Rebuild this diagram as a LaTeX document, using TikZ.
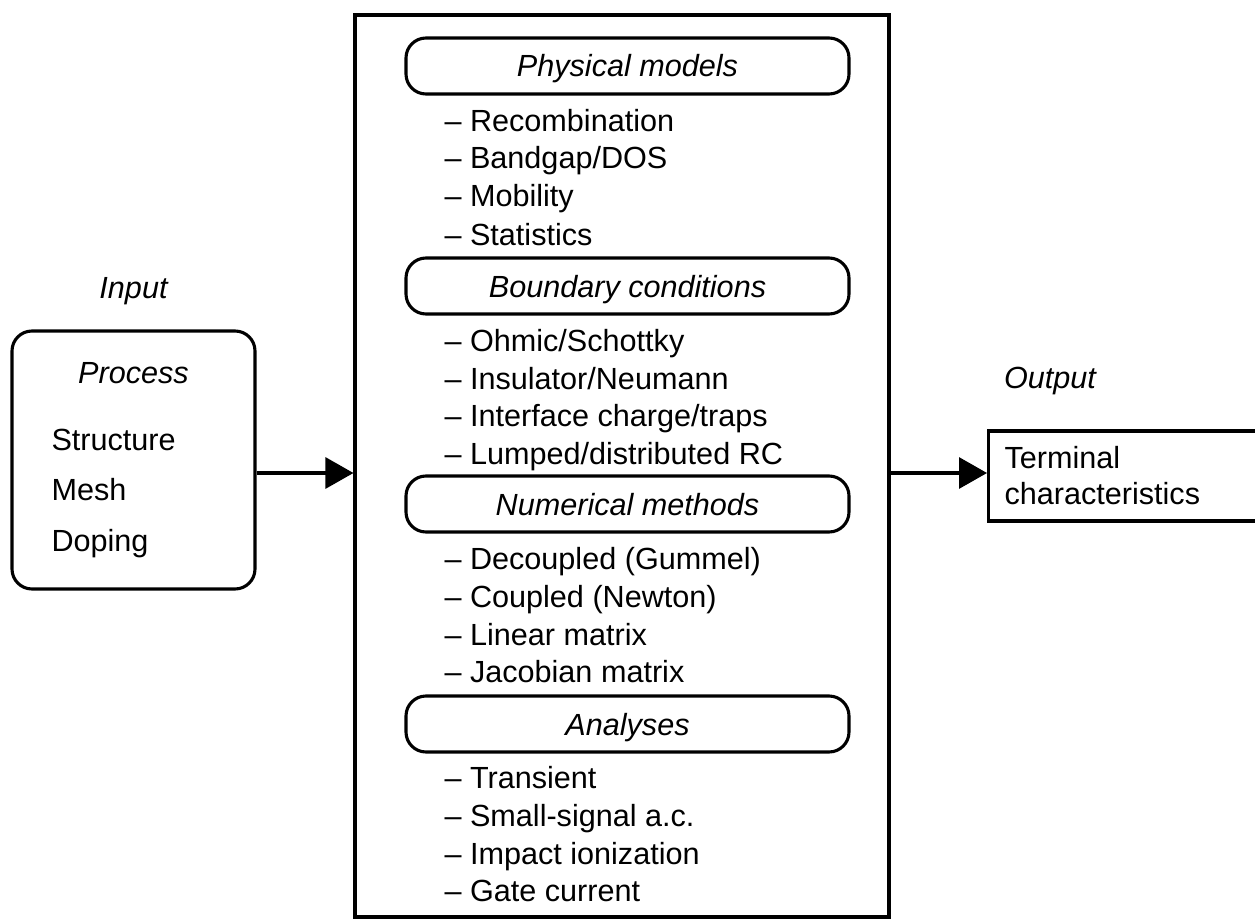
\documentclass[tikz,border=0pt]{standalone}
\usepackage{fontspec}
\setmainfont{Liberation Sans}
\usetikzlibrary{arrows.meta}
\begin{document}
\begin{tikzpicture}[x=1pt,y=-1pt,line width=3.1pt,
  txt/.style={font=\fontsize{30.6pt}{38pt}\selectfont, inner sep=0pt},
  ital/.style={font=\fontsize{30.6pt}{38pt}\selectfont\itshape, inner sep=0pt},
  hdr/.style={draw, rounded corners=20pt, minimum width=443pt, minimum height=56pt, inner sep=0pt, text height=22pt, text depth=0pt, font=\fontsize{30.6pt}{38pt}\selectfont\itshape},
  item/.style={txt, anchor=base west},
  box/.style={draw, inner sep=0pt},
  arr/.style={-{Triangle[length=28pt,width=31pt]}}]
\clip (0,0) rectangle (1255,920);
\useasboundingbox (0,0) rectangle (1255,920);
% main box
\node[box, minimum width=534pt, minimum height=902pt] (main) at (622,466) {};
% headers
\node[hdr] (h1) at (627.5,66) {Physical models};
\node[hdr] (h2) at (627.5,286) {Boundary conditions};
\node[hdr] (h3) at (627.5,504) {Numerical methods};
\node[hdr] (h4) at (627.5,724) {Analyses};
% items
\node[item] (p1) at (443,132) {– Recombination};
\node[item] (p2) at (443,169) {– Bandgap/DOS};
\node[item] (p3) at (443,207) {– Mobility};
\node[item] (p4) at (443,245) {– Statistics};
\node[item] (b1) at (443,351) {– Ohmic/Schottky};
\node[item] (b2) at (443,389) {– Insulator/Neumann};
\node[item] (b3) at (443,426) {– Interface charge/traps};
\node[item] (b4) at (443,464) {– Lumped/distributed RC};
\node[item] (n1) at (443,569) {– Decoupled (Gummel)};
\node[item] (n2) at (443,607) {– Coupled (Newton)};
\node[item] (n3) at (443,645) {– Linear matrix};
\node[item] (n4) at (443,682) {– Jacobian matrix};
\node[item] (a1) at (443,788) {– Transient};
\node[item] (a2) at (443,826) {– Small-signal a.c.};
\node[item] (a3) at (443,864) {– Impact ionization};
\node[item] (a4) at (443,901) {– Gate current};
% input
\node[ital] (inlab) at (133.5,291) {Input};
\node[box, rounded corners=20pt, minimum width=243pt, minimum height=258pt] (proc) at (133.5,460) {};
\node[ital] (proclab) at (133.5,373) {Process};
\node[item] (s1) at (50,450) {Structure};
\node[item] (s2) at (50,500) {Mesh};
\node[item] (s3) at (50,551) {Doping};
% output
\node[ital] (outlab) at (1050,381) {Output};
\node[box, anchor=west, minimum width=290pt, minimum height=90pt] (out) at (987,476) {};
\node[item] (o1) at (1003,468) {Terminal};
\node[item] (o2) at (1003,504) {characteristics};
% arrows
\draw[arr] (proc.east |- 0,473) -- (main.west |- 0,473);
\draw[arr] (main.east |- 0,473) -- (out.west |- 0,473);
\end{tikzpicture}
\end{document}
